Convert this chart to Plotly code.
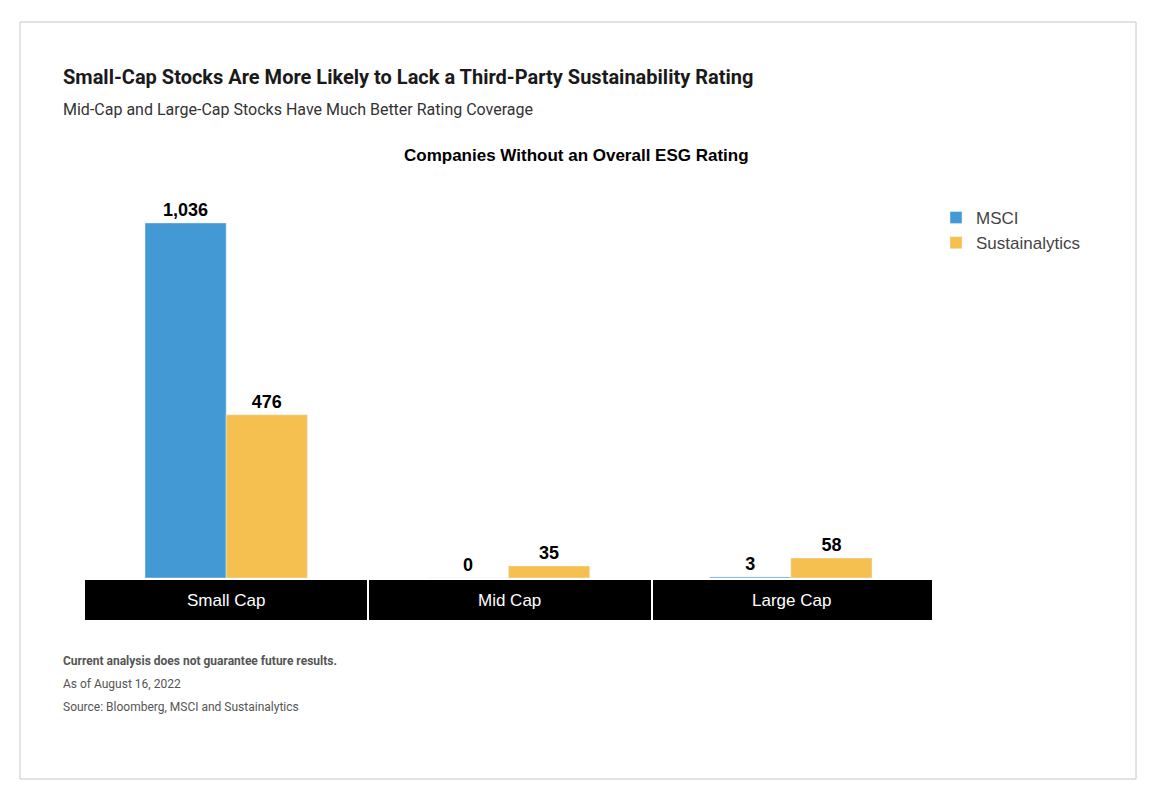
import plotly.graph_objects as go

categories = ["Small Cap", "Mid Cap", "Large Cap"]
msci = [1036, 0, 3]
sustainalytics = [476, 35, 58]

OX, OY = 8, 8
L, R, T, B = 85, 932, 190, 578
W, H = 1158, 798
def px(x): return (x - L) / (R - L)
def py(y): return (B - y) / (B - T)

fig = go.Figure()
fig.add_bar(name="MSCI", x=categories, y=msci, marker_color="#4399d3",
            text=[f"{v:,}" for v in msci], textposition="outside", cliponaxis=False,
            textfont=dict(family="Liberation Sans", size=18, color="black", weight="bold"))
fig.add_bar(name="Sustainalytics", x=categories, y=sustainalytics, marker_color="#f5c04f",
            text=[f"{v:,}" for v in sustainalytics], textposition="outside", cliponaxis=False,
            textfont=dict(family="Liberation Sans", size=18, color="black", weight="bold"))

shapes = [dict(type="rect", xref="paper", yref="paper", x0=px(20), x1=px(1136), y0=py(22), y1=py(779),
               line=dict(color="#c8c8c8", width=1), fillcolor="rgba(0,0,0,0)", layer="below")]
anns = []
edges = [85, 367, 651, 932]
for i, c in enumerate(categories):
    x0 = edges[i] + (2 if i > 0 else 0)
    x1 = edges[i + 1]
    shapes.append(dict(type="rect", xref="paper", yref="paper", x0=px(x0), x1=px(x1), y0=py(580), y1=py(620),
                       line=dict(width=0), fillcolor="black"))
    anns.append(dict(xref="paper", yref="paper", x=px((edges[i] + edges[i + 1]) / 2), y=py(600), text=c,
                     showarrow=False, xanchor="center", yanchor="middle",
                     font=dict(family="Liberation Sans", size=17, color="white")))

def txt(x, y, t, size, color, bold=False, family="Roboto", xanchor="left"):
    anns.append(dict(xref="paper", yref="paper", x=px(x), y=py(y), text=t, showarrow=False,
                     xanchor=xanchor, yanchor="middle",
                     font=dict(family=family, size=size, color=color, weight="bold" if bold else "normal")))

txt(61, 77, "Small-Cap Stocks Are More Likely to Lack a Third-Party Sustainability Rating", 20, "#1a1a1a", True)
txt(61, 109, "Mid-Cap and Large-Cap Stocks Have Much Better Rating Coverage", 16, "#333333")
txt(576, 155, "Companies Without an Overall ESG Rating", 17, "black", True, "Liberation Sans", "center")
txt(61, 661, "Current analysis does not guarantee future results.", 12, "#555555", True)
txt(61, 684, "As of August 16, 2022", 12, "#555555")
txt(61, 707, "Source: Bloomberg, MSCI and Sustainalytics", 12, "#555555")

fig.update_layout(
    width=W, height=H, margin=dict(l=L - OX, r=W - R + OX, t=T - OY, b=H - B + OY),
    paper_bgcolor="white", plot_bgcolor="white", barmode="group", bargap=0.425, bargroupgap=0,
    xaxis=dict(showticklabels=False, showgrid=False, zeroline=False, showline=False),
    yaxis=dict(range=[0, (B - T) / 0.3427], visible=False),
    legend=dict(x=px(936), y=py(200), xanchor="left", yanchor="top", bgcolor="rgba(0,0,0,0)",
                font=dict(family="Liberation Sans", size=17, color="#444444"), itemwidth=30,
                tracegroupgap=0),
    shapes=shapes, annotations=anns,
)
fig.write_html("out.html")
